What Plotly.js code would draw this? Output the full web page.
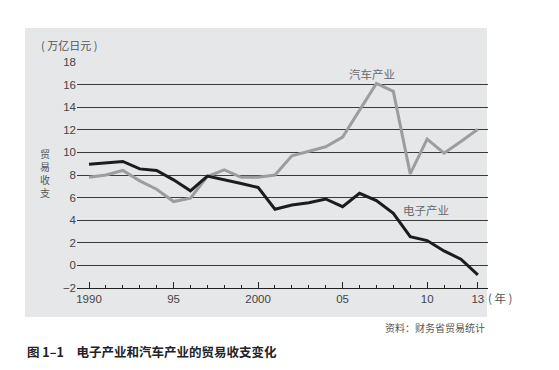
<!DOCTYPE html>
<html><head><meta charset="utf-8">
<script src="https://cdn.plot.ly/plotly-3.0.1.min.js"></script>
<style>html,body{margin:0;padding:0;background:#fff}#c{width:559px;height:370px}</style>
</head><body><div id="c"></div>
<script>
const years = [1990,1991,1992,1993,1994,1995,1996,1997,1998,1999,2000,2001,2002,2003,2004,2005,2006,2007,2008,2009,2010,2011,2012,2013];
const electronics = [8.96,9.1,9.2,8.54,8.4,7.57,6.6,7.9,7.6,7.25,6.9,4.97,5.35,5.55,5.88,5.2,6.38,5.73,4.6,2.55,2.2,1.28,0.55,-0.84];
const automobile = [7.8,8.0,8.4,7.48,6.74,5.65,5.95,7.86,8.45,7.8,7.8,8.0,9.7,10.07,10.5,11.35,13.76,16.1,15.4,8.1,11.17,9.93,10.96,12.05];
const xTickVals = [1990,1995,2000,2005,2010,2013];
const xTickText = ['1990','95','2000','05','10','13'];
const yTickVals = [-2,0,2,4,6,8,10,12,14,16,18];
const seriesNames = ['电子产业','汽车产业'];

const F = '"Liberation Sans", Arial, "Noto Sans CJK SC", sans-serif';
const CJK = '"Noto Sans CJK SC", "Liberation Sans", sans-serif';

const traces = [
  {x: years, y: automobile, name: seriesNames[1], mode: 'lines', line: {color: '#9d9d9d', width: 3}},
  {x: years, y: electronics, name: seriesNames[0], mode: 'lines', line: {color: '#1c1c1c', width: 3}}
];

const toPY = py => (288 - py) / 226;
const toPX = px => (px - 77) / 411;

const annotations = [
  {text: '汽车产业', x: toPX(347), y: toPY(74), xanchor: 'left', yanchor: 'middle', font: {family: CJK, size: 11.5, color: '#6a6a6a'}},
  {text: '电子产业', x: toPX(401), y: toPY(210), xanchor: 'left', yanchor: 'middle', font: {family: CJK, size: 11.5, color: '#6a6a6a'}},
  {text: '( 万亿日元 )', x: toPX(39), y: toPY(45), xanchor: 'left', yanchor: 'middle', font: {family: CJK, size: 11, color: '#555'}},
  {text: '( 年 )', x: toPX(486), y: toPY(298), xanchor: 'left', yanchor: 'middle', font: {family: CJK, size: 11.5, color: '#555'}},
  {text: '资料：财务省贸易统计', x: toPX(487), y: toPY(327), xanchor: 'right', yanchor: 'middle', font: {family: CJK, size: 10, color: '#555'}},
  {text: '图 1–1　电子产业和汽车产业的贸易收支变化', x: toPX(25), y: toPY(351), xanchor: 'left', yanchor: 'middle', font: {family: CJK, size: 12.5, color: '#222', weight: 'bold'}},
  {text: '贸<br>易<br>收<br>支', x: toPX(45), y: toPY(173), xanchor: 'center', yanchor: 'middle', align: 'center', font: {family: CJK, size: 10, color: '#555'}}
];
annotations.forEach(a => {a.xref = 'paper'; a.yref = 'paper'; a.showarrow = false;});

const layout = {
  width: 559, height: 370,
  margin: {l: 77, r: 71, t: 62, b: 82},
  paper_bgcolor: '#ffffff',
  plot_bgcolor: 'rgba(0,0,0,0)',
  showlegend: false,
  font: {family: F, size: 11.5, color: '#444'},
  xaxis: {
    range: [1989.29, 2013.6], tickvals: xTickVals, ticktext: xTickText,
    ticks: 'inside', ticklen: 6, tickwidth: 1, tickcolor: '#222',
    minor: {ticks: 'inside', dtick: 1, tick0: 1990, ticklen: 3, tickcolor: '#222', tickwidth: 1},
    showline: true, linecolor: '#222', linewidth: 1.2,
    showgrid: false, zeroline: false,
    tickfont: {family: F, size: 11.5, color: '#444'}
  },
  yaxis: {
    range: [-2, 18], tickvals: yTickVals, ticks: '', showline: false,
    showgrid: true, gridcolor: '#3a3a3a', gridwidth: 1, zeroline: false,
    ticklabelstandoff: 0,
    tickfont: {family: F, size: 11.5, color: '#444'}
  },
  shapes: [{type: 'rect', xref: 'paper', yref: 'paper', x0: toPX(25), x1: toPX(487), y0: toPY(317), y1: toPY(28), fillcolor: '#e6e7e9', line: {width: 0}, layer: 'below'}],
  annotations: annotations
};
Plotly.newPlot('c', traces, layout, {staticPlot: true, displayModeBar: false});
</script></body></html>
